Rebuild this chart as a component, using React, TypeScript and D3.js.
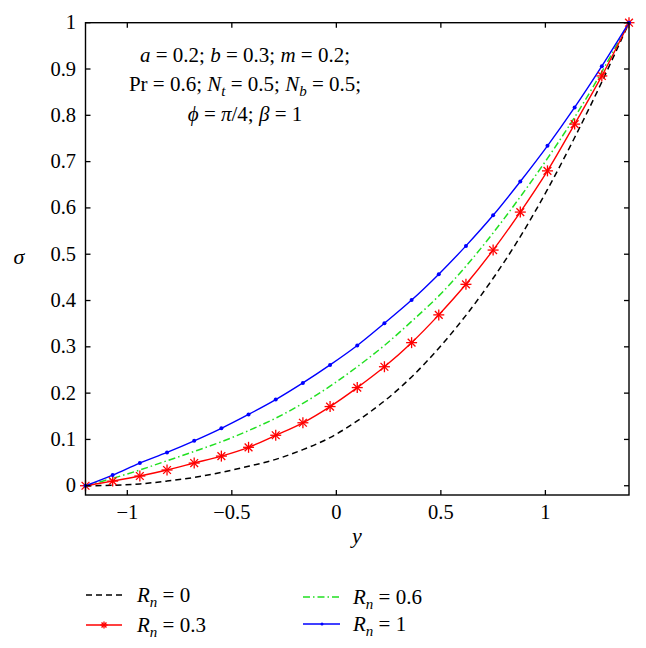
import React from "react";
import * as d3 from "d3";

const X_VALUES = [-1.2, -1.07, -0.94, -0.81, -0.68, -0.55, -0.42, -0.29, -0.16, -0.03, 0.1, 0.23, 0.36, 0.49, 0.62, 0.75, 0.88, 1.01, 1.14, 1.27, 1.4];
const RN_0 = [0, 0.001, 0.004, 0.01, 0.018, 0.029, 0.042, 0.057, 0.078, 0.104, 0.14, 0.183, 0.235, 0.297, 0.368, 0.448, 0.538, 0.64, 0.752, 0.872, 1.0];
const RN_03 = [0, 0.01, 0.021, 0.034, 0.049, 0.064, 0.083, 0.109, 0.136, 0.171, 0.212, 0.257, 0.309, 0.369, 0.435, 0.509, 0.591, 0.68, 0.781, 0.885, 1.0];
const RN_06 = [0, 0.016, 0.034, 0.054, 0.074, 0.095, 0.119, 0.146, 0.178, 0.215, 0.257, 0.303, 0.355, 0.41, 0.474, 0.546, 0.624, 0.707, 0.796, 0.894, 1.0];
const RN_1 = [0, 0.023, 0.049, 0.072, 0.097, 0.124, 0.154, 0.186, 0.222, 0.261, 0.303, 0.351, 0.401, 0.457, 0.518, 0.584, 0.657, 0.734, 0.817, 0.906, 1.0];

const X_TICKS = [-1, -0.5, 0, 0.5, 1];
const X_TICK_LABELS = ["\u22121", "\u22120.5", "0", "0.5", "1"];
const Y_TICKS = [0, 0.1, 0.2, 0.3, 0.4, 0.5, 0.6, 0.7, 0.8, 0.9, 1];
const Y_TICK_LABELS = ["0", "0.1", "0.2", "0.3", "0.4", "0.5", "0.6", "0.7", "0.8", "0.9", "1"];
const LEGEND_LABELS = ["0", "0.3", "0.6", "1"];

const FONT = "Liberation Serif, Times New Roman, DejaVu Serif, serif";

function Star({ cx, cy, r = 5.5, color }: { cx: number; cy: number; r?: number; color: string }) {
  const d = r * Math.SQRT1_2;
  return (
    <g stroke={color} strokeWidth={1.3}>
      <line x1={cx - r} y1={cy} x2={cx + r} y2={cy} />
      <line x1={cx} y1={cy - r} x2={cx} y2={cy + r} />
      <line x1={cx - d} y1={cy - d} x2={cx + d} y2={cy + d} />
      <line x1={cx - d} y1={cy + d} x2={cx + d} y2={cy - d} />
    </g>
  );
}

function RnLabel({ x, y, value }: { x: number; y: number; value: string }) {
  return (
    <text x={x} y={y} style={{ fontFamily: FONT, fontSize: 21 }}>
      <tspan fontStyle="italic">R</tspan>
      <tspan fontStyle="italic" style={{ fontSize: 15 }} dy={5}>n</tspan>
      <tspan dy={-5}>{" = " + value}</tspan>
    </text>
  );
}

export default function App() {
  const left = 85.5;
  const right = 629;
  const top = 22.7;
  const bottom = 495;
  const x = d3.scaleLinear().domain([-1.2, 1.4]).range([left, right]);
  const y = d3.scaleLinear().domain([-0.02, 1]).range([bottom, top]);

  const line = d3
    .line<number>()
    .x((_, i) => x(X_VALUES[i]))
    .y((d) => y(d))
    .curve(d3.curveCatmullRom.alpha(0.5));

  const tick = 5;
  const txt = { fontFamily: FONT, fontSize: 20.5 };
  const ann = { fontFamily: FONT, fontSize: 21 };

  return (
    <svg
      width={646}
      height={648}
      style={{ position: "absolute", left: 0, top: 0, background: "#fff" }}
    >
      <rect x={0} y={0} width={646} height={648} fill="#fff" />
      <path d={line(RN_0) || ""} fill="none" stroke="#000" strokeWidth={1.5} strokeDasharray="6,4" />
      <path d={line(RN_06) || ""} fill="none" stroke="#22e022" strokeWidth={1.5} strokeDasharray="7,3,1.5,3" />
      <path d={line(RN_03) || ""} fill="none" stroke="#ff0000" strokeWidth={1.4} />
      <path d={line(RN_1) || ""} fill="none" stroke="#0000ff" strokeWidth={1.4} />
      {RN_03.map((v, i) => (
        <Star key={"s" + i} cx={x(X_VALUES[i])} cy={y(v)} color="#ff0000" />
      ))}
      {RN_1.map((v, i) => (
        <circle key={"b" + i} cx={x(X_VALUES[i])} cy={y(v)} r={2} fill="#0000ff" />
      ))}

      <rect x={left} y={top} width={right - left} height={bottom - top} fill="none" stroke="#000" strokeWidth={1.4} />
      {X_TICKS.map((t, i) => (
        <g key={"xt" + i}>
          <line x1={x(t)} x2={x(t)} y1={bottom} y2={bottom - tick} stroke="#000" strokeWidth={1.3} />
          <line x1={x(t)} x2={x(t)} y1={top} y2={top + tick} stroke="#000" strokeWidth={1.3} />
          <text x={x(t)} y={519} textAnchor="middle" style={txt}>
            {X_TICK_LABELS[i]}
          </text>
        </g>
      ))}
      {Y_TICKS.map((t, i) => (
        <g key={"yt" + i}>
          <line x1={left} x2={left + tick} y1={y(t)} y2={y(t)} stroke="#000" strokeWidth={1.3} />
          <line x1={right} x2={right - tick} y1={y(t)} y2={y(t)} stroke="#000" strokeWidth={1.3} />
          <text x={76} y={y(t) + 6.5} textAnchor="end" style={txt}>
            {Y_TICK_LABELS[i]}
          </text>
        </g>
      ))}

      <text x={19} y={264} textAnchor="middle" style={{ fontFamily: FONT, fontSize: 22, fontStyle: "italic" }}>
        σ
      </text>
      <text x={357} y={543} textAnchor="middle" style={{ fontFamily: FONT, fontSize: 22, fontStyle: "italic" }}>
        y
      </text>

      <text x={245} y={62} textAnchor="middle" style={ann}>
        <tspan fontStyle="italic">a</tspan>
        <tspan>{" = 0.2; "}</tspan>
        <tspan fontStyle="italic">b</tspan>
        <tspan>{" = 0.3; "}</tspan>
        <tspan fontStyle="italic">m</tspan>
        <tspan>{" = 0.2;"}</tspan>
      </text>
      <text x={245} y={91} textAnchor="middle" style={ann}>
        <tspan>{"Pr = 0.6; "}</tspan>
        <tspan fontStyle="italic">N</tspan>
        <tspan fontStyle="italic" style={{ fontSize: 15 }} dy={5}>t</tspan>
        <tspan dy={-5}>{" = 0.5; "}</tspan>
        <tspan fontStyle="italic">N</tspan>
        <tspan fontStyle="italic" style={{ fontSize: 15 }} dy={5}>b</tspan>
        <tspan dy={-5}>{" = 0.5;"}</tspan>
      </text>
      <text x={245} y={121} textAnchor="middle" style={ann}>
        <tspan fontStyle="italic">ϕ</tspan>
        <tspan>{" = "}</tspan>
        <tspan fontStyle="italic">π</tspan>
        <tspan>{"/4; "}</tspan>
        <tspan fontStyle="italic">β</tspan>
        <tspan>{" = 1"}</tspan>
      </text>

      <line x1={86} x2={122} y1={595} y2={595} stroke="#000" strokeWidth={1.5} strokeDasharray="6,4" />
      <RnLabel x={137} y={602} value={LEGEND_LABELS[0]} />
      <line x1={86} x2={122} y1={625} y2={625} stroke="#ff0000" strokeWidth={1.4} />
      <Star cx={104} cy={625} r={3.5} color="#ff0000" />
      <RnLabel x={137} y={632} value={LEGEND_LABELS[1]} />
      <line x1={303} x2={340} y1={597} y2={597} stroke="#22e022" strokeWidth={1.5} strokeDasharray="7,3,1.5,3" />
      <RnLabel x={353} y={604} value={LEGEND_LABELS[2]} />
      <line x1={303} x2={340} y1={624} y2={624} stroke="#0000ff" strokeWidth={1.4} />
      <circle cx={322} cy={624} r={1.5} fill="#0000ff" />
      <RnLabel x={353} y={631} value={LEGEND_LABELS[3]} />
    </svg>
  );
}
